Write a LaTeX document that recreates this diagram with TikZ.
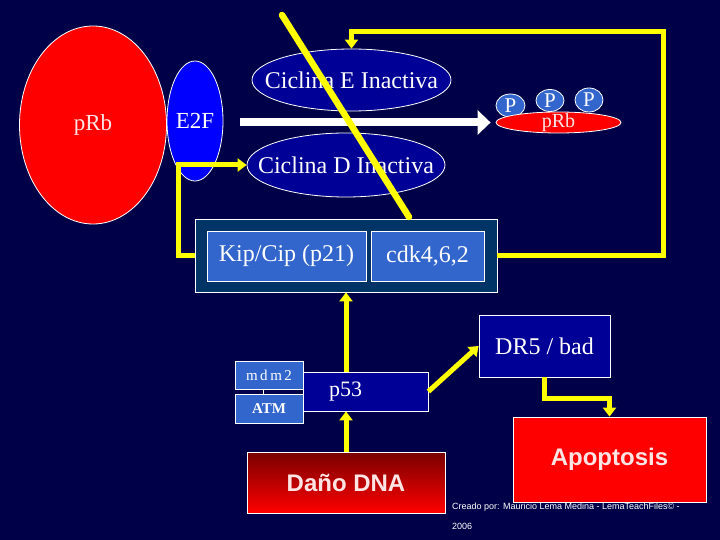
\documentclass[tikz,border=0pt]{standalone}
\usepackage{fontspec}
\setmainfont{Liberation Serif}
\newfontfamily\arialf{Liberation Sans}
\usetikzlibrary{shapes.geometric,arrows.meta,calc}
\definecolor{bgnavy}{RGB}{0,0,72}
\definecolor{dkblue}{RGB}{0,0,150}
\definecolor{brblue}{RGB}{0,0,255}
\definecolor{cfblue}{RGB}{51,102,204}
\definecolor{teal}{RGB}{0,51,102}
\definecolor{yel}{RGB}{255,255,0}
\definecolor{pinkw}{RGB}{255,228,228}
\definecolor{dkred}{RGB}{120,0,0}
\newcommand\fsz[1]{\fontsize{#1}{#1}\selectfont}
\newcommand\ztxt[1]{\makebox[0pt]{#1}}
\begin{document}
\begin{tikzpicture}[x=1pt,y=-1pt,
  ell/.style={ellipse, draw=white, line width=0.8pt, inner sep=0pt, text=white},
  box/.style={rectangle, draw=white, line width=0.8pt, inner sep=0pt, text=white},
  yl/.style={draw=yel, line width=5pt},
  yarr/.style={yl, -{Triangle[length=9pt,width=13pt]}},
  lab/.style={text=white, inner sep=0pt}]
\fill[bgnavy] (0,0) rectangle (720,540);
\useasboundingbox (0,0) rectangle (720,540);

% left ellipses
\node[ell, fill=red, minimum width=147, minimum height=198, text=pinkw, font=\fsz{23}] (prbL) at (93,125) {\ztxt{pRb}};
\node[ell, fill=brblue, minimum width=56, minimum height=120, font=\fsz{23}] (e2f) at (195,121) {\ztxt{E2F}};

% cyclin ellipses
\node[ell, fill=dkblue, minimum width=199, minimum height=62, font=\fsz{24}] (cicE) at (351.5,80) {\ztxt{Ciclina E Inactiva}};
\node[ell, fill=dkblue, minimum width=198, minimum height=64, font=\fsz{24}] (cicD) at (346,165) {\ztxt{Ciclina D Inactiva}};

% phosphorylated pRb
\node[ell, fill=cfblue, minimum width=29, minimum height=23, label={[lab,font=\fsz{21}]center:P}] (p1) at (510.5,105.5) {};
\node[ell, fill=cfblue, minimum width=28, minimum height=22, label={[lab,font=\fsz{21}]center:P}] (p2) at (550,100.5) {};
\node[ell, fill=cfblue, minimum width=28, minimum height=24, label={[lab,font=\fsz{21}]center:P}] (p3) at (589,100) {};
\node[ell, fill=red, minimum width=125, minimum height=21, label={[lab,text=pinkw,font=\fsz{20}]center:pRb}] (prbS) at (558.5,122.5) {};

% white arrow
\coordinate (wa) at (240,122.5);
\draw[white, line width=8pt, -{Triangle[length=13pt,width=24pt]}] (wa) -- ([xshift=-5pt]prbS.west);

% complex box
\node[box, fill=teal, minimum width=302, minimum height=73] (outer) at (346,255.5) {};
\node[box, fill=cfblue, minimum width=159, minimum height=50, font=\fsz{24}] (kip) at (286.5,256) {Kip/Cip (p21)};
\node[box, fill=cfblue, minimum width=113, minimum height=50, font=\fsz{24}] (cdk) at (427.5,256) {cdk4,6,2};

% lower boxes
\node[box, fill=dkblue, minimum width=125, minimum height=39, label={[lab,font=\fsz{22},xshift=-20pt]center:p53}] (p53) at (365.5,391.5) {};
\node[box, fill=cfblue, minimum width=68, minimum height=28, font=\fsz{15}] (mdm2) at (269,375) {m\,d\,m\,2};
\node[box, fill=cfblue, minimum width=68, minimum height=29, font=\bfseries\fsz{15}] (atm) at (269,408.5) {ATM};
\draw[white, line width=0.8pt] ([xshift=-6pt]mdm2.south) -- ([xshift=-6pt]atm.north);
\node[box, fill=dkblue, minimum width=131, minimum height=62, font=\fsz{24}] (dr5) at (544.5,346) {DR5 / bad};
\node[box, fill=red, minimum width=193, minimum height=85, text=pinkw, font=\arialf\bfseries\fsz{24}] (apo) at (609.5,459.5) {Apoptosis};
\node[box, top color=dkred, bottom color=red, minimum width=198, minimum height=61, text=pinkw, font=\arialf\bfseries\fsz{24}] (dna) at (346,482.5) {Daño DNA};

% credits
\node[anchor=west, lab, font=\arialf\fsz{9}] (cred) at (452,507) {Creado por: Mauricio Lema Medina - LemaTeachFiles© -};
\node[anchor=west, lab, font=\arialf\fsz{9}] (yr) at (452,526) {2006};

% yellow connectors
\coordinate (lpTR) at (663,32);
\draw[yarr] (outer.east) -| (lpTR) -| (cicE.north);
\coordinate (lpL) at (178,165);
\draw[yarr] (outer.west) -| (lpL) -- (cicD.west);
\draw[yarr] (p53.north -| dna.north) -- (outer.south -| dna.north);
\draw[yarr] (dna.north) -- (dna.north |- p53.south);
\draw[yarr] (p53.east) -- (dr5.west);
\draw[yarr] (dr5.south) -- ++(0,21) -| (apo.north);

% blocking diagonal
\coordinate (d1) at (282,15);
\coordinate (d2) at (409,217);
\draw[yel, line width=6.5pt, line cap=round] (d1) -- (d2);
\end{tikzpicture}
\end{document}
